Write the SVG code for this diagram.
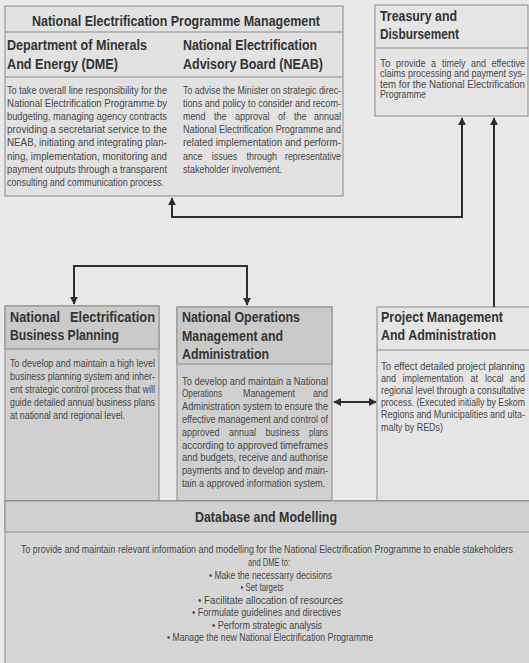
<svg xmlns="http://www.w3.org/2000/svg" width="529" height="663" viewBox="0 0 529 663">
<style>
.bg{fill:#e9e9e9}
.box{stroke:#8a8a8a;stroke-width:1}
.lt{fill:#e2e2e2}
.ltb{fill:#e5e5e5}
.dk{fill:#d0d0d0}
.dkh{fill:#cacaca}
.db{fill:#d6d6d6}
.dbh{fill:#d0d0d0}
.div{stroke:#8a8a8a;stroke-width:1;fill:none}
text{font-family:"Liberation Sans",Arial,sans-serif}
.h{font-weight:bold;font-size:15px;fill:#333}
.t{font-weight:bold;font-size:14px;fill:#333}
.b{font-size:10px;fill:#474747}
.c{stroke:#2e2e2e;stroke-width:2;fill:none}
</style>
<defs>
<marker id="ah" viewBox="0 0 10 10" refX="9" refY="5" markerWidth="4" markerHeight="4" orient="auto-start-reverse">
<path d="M0,0 L10,5 L0,10 z" fill="#2e2e2e"/>
</marker>
</defs>
<rect class="bg" x="0" y="0" width="529" height="663"/>

<g id="management">
<rect class="box lt" x="5" y="6" width="338" height="190"/>
<line class="div" x1="5" y1="32" x2="343" y2="32"/>
<line class="div" x1="5" y1="77" x2="343" y2="77"/>
<text class="t" x="176" y="26" text-anchor="middle" textLength="288" lengthAdjust="spacingAndGlyphs">National Electrification Programme Management</text>
<text class="h" x="7" y="50" textLength="140" lengthAdjust="spacingAndGlyphs">Department of Minerals</text>
<text class="h" x="7" y="69" textLength="111" lengthAdjust="spacingAndGlyphs">And Energy (DME)</text>
<text class="h" x="183" y="50" textLength="134" lengthAdjust="spacingAndGlyphs">National Electrification</text>
<text class="h" x="183" y="69" textLength="140" lengthAdjust="spacingAndGlyphs">Advisory Board (NEAB)</text>
<text class="b" x="7" y="93.5" textLength="160" lengthAdjust="spacingAndGlyphs">To take overall line responsibility for the</text>
<text class="b" x="7" y="106.7" textLength="160" lengthAdjust="spacingAndGlyphs">National Electrification Programme by</text>
<text class="b" x="7" y="119.9" textLength="160" lengthAdjust="spacingAndGlyphs">budgeting, managing agency contracts</text>
<text class="b" x="7" y="133.1" textLength="160" lengthAdjust="spacingAndGlyphs">providing a secretariat service to the</text>
<text class="b" x="7" y="146.3" textLength="160" lengthAdjust="spacingAndGlyphs">NEAB, initiating and integrating plan-</text>
<text class="b" x="7" y="159.5" textLength="160" lengthAdjust="spacingAndGlyphs">ning, implementation, monitoring and</text>
<text class="b" x="7" y="172.7" textLength="160" lengthAdjust="spacingAndGlyphs">payment outputs through a transparent</text>
<text class="b" x="7" y="185.9" textLength="157" lengthAdjust="spacingAndGlyphs">consulting and communication process.</text>
<text class="b" x="183" y="93.5" textLength="158" lengthAdjust="spacingAndGlyphs">To advise the Minister on strategic direc-</text>
<text class="b" x="183" y="106.7" textLength="158" lengthAdjust="spacingAndGlyphs">tions and policy to consider and recom-</text>
<text class="b" x="183" y="119.9" textLength="22.5" lengthAdjust="spacingAndGlyphs">mend</text>
<text class="b" x="214" y="119.9" textLength="12.5" lengthAdjust="spacingAndGlyphs">the</text>
<text class="b" x="235" y="119.9" textLength="34.5" lengthAdjust="spacingAndGlyphs">approval</text>
<text class="b" x="278" y="119.9" textLength="7.5" lengthAdjust="spacingAndGlyphs">of</text>
<text class="b" x="294" y="119.9" textLength="12.5" lengthAdjust="spacingAndGlyphs">the</text>
<text class="b" x="314" y="119.9" textLength="27" lengthAdjust="spacingAndGlyphs">annual</text>
<text class="b" x="183" y="133.1" textLength="158" lengthAdjust="spacingAndGlyphs">National Electrification Programme and</text>
<text class="b" x="183" y="146.3" textLength="158" lengthAdjust="spacingAndGlyphs">related implementation and perform-</text>
<text class="b" x="183" y="159.5" textLength="19.5" lengthAdjust="spacingAndGlyphs">ance</text>
<text class="b" x="211.7" y="159.5" textLength="25.5" lengthAdjust="spacingAndGlyphs">issues</text>
<text class="b" x="246.4" y="159.5" textLength="30.5" lengthAdjust="spacingAndGlyphs">through</text>
<text class="b" x="285" y="159.5" textLength="56" lengthAdjust="spacingAndGlyphs">representative</text>
<text class="b" x="183" y="172.7" textLength="99" lengthAdjust="spacingAndGlyphs">stakeholder involvement.</text>
</g>

<g id="treasury">
<rect class="box ltb" x="375" y="5" width="153" height="111"/>
<line class="div" x1="375" y1="48" x2="528" y2="48"/>
<text class="h" x="380" y="21" textLength="77" lengthAdjust="spacingAndGlyphs">Treasury and</text>
<text class="h" x="380" y="39" textLength="79" lengthAdjust="spacingAndGlyphs">Disbursement</text>
<text class="b" x="380" y="66.5" textLength="10.5" lengthAdjust="spacingAndGlyphs">To</text>
<text class="b" x="396" y="66.5" textLength="29.5" lengthAdjust="spacingAndGlyphs">provide</text>
<text class="b" x="431" y="66.5" textLength="5" lengthAdjust="spacingAndGlyphs">a</text>
<text class="b" x="442" y="66.5" textLength="23.5" lengthAdjust="spacingAndGlyphs">timely</text>
<text class="b" x="471" y="66.5" textLength="15" lengthAdjust="spacingAndGlyphs">and</text>
<text class="b" x="491.5" y="66.5" textLength="33.5" lengthAdjust="spacingAndGlyphs">effective</text>
<text class="b" x="380" y="77" textLength="145" lengthAdjust="spacingAndGlyphs">claims processing and payment sys-</text>
<text class="b" x="380" y="87.5" textLength="145" lengthAdjust="spacingAndGlyphs">tem for the National Electrification</text>
<text class="b" x="380" y="98" textLength="46" lengthAdjust="spacingAndGlyphs">Programme</text>
</g>

<g id="business-planning">
<rect class="box dk" x="5" y="306" width="154" height="195"/>
<rect class="box dkh" x="5" y="306" width="154" height="43"/>
<text class="h" x="10" y="322" textLength="50" lengthAdjust="spacingAndGlyphs">National</text>
<text class="h" x="70" y="322" textLength="85" lengthAdjust="spacingAndGlyphs">Electrification</text>
<text class="h" x="10" y="340" textLength="109" lengthAdjust="spacingAndGlyphs">Business Planning</text>
<text class="b" x="10" y="366.5" textLength="145" lengthAdjust="spacingAndGlyphs">To develop and maintain a high level</text>
<text class="b" x="10" y="379.5" textLength="145" lengthAdjust="spacingAndGlyphs">business planning system and inher-</text>
<text class="b" x="10" y="392.5" textLength="145" lengthAdjust="spacingAndGlyphs">ent strategic control process that will</text>
<text class="b" x="10" y="405.5" textLength="145" lengthAdjust="spacingAndGlyphs">guide detailed annual business plans</text>
<text class="b" x="10" y="418.5" textLength="115" lengthAdjust="spacingAndGlyphs">at national and regional level.</text>
</g>

<g id="operations">
<rect class="box dk" x="177" y="307" width="155" height="194"/>
<rect class="box dkh" x="177" y="307" width="155" height="57"/>
<text class="h" x="182" y="322" textLength="118" lengthAdjust="spacingAndGlyphs">National Operations</text>
<text class="h" x="182" y="341" textLength="101" lengthAdjust="spacingAndGlyphs">Management and</text>
<text class="h" x="182" y="359" textLength="87" lengthAdjust="spacingAndGlyphs">Administration</text>
<text class="b" x="182" y="384.5" textLength="146" lengthAdjust="spacingAndGlyphs">To develop and maintain a National</text>
<text class="b" x="182" y="397.3" textLength="40" lengthAdjust="spacingAndGlyphs">Operations</text>
<text class="b" x="243" y="397.3" textLength="52" lengthAdjust="spacingAndGlyphs">Management</text>
<text class="b" x="313" y="397.3" textLength="15" lengthAdjust="spacingAndGlyphs">and</text>
<text class="b" x="182" y="410.1" textLength="146" lengthAdjust="spacingAndGlyphs">Administration system to ensure the</text>
<text class="b" x="182" y="422.9" textLength="146" lengthAdjust="spacingAndGlyphs">effective management and control of</text>
<text class="b" x="182" y="435.7" textLength="37.5" lengthAdjust="spacingAndGlyphs">approved</text>
<text class="b" x="229" y="435.7" textLength="27" lengthAdjust="spacingAndGlyphs">annual</text>
<text class="b" x="265.5" y="435.7" textLength="34" lengthAdjust="spacingAndGlyphs">business</text>
<text class="b" x="309" y="435.7" textLength="19" lengthAdjust="spacingAndGlyphs">plans</text>
<text class="b" x="182" y="448.5" textLength="146" lengthAdjust="spacingAndGlyphs">according to approved timeframes</text>
<text class="b" x="182" y="461.3" textLength="146" lengthAdjust="spacingAndGlyphs">and budgets, receive and authorise</text>
<text class="b" x="182" y="474.1" textLength="146" lengthAdjust="spacingAndGlyphs">payments and to develop and main-</text>
<text class="b" x="182" y="486.9" textLength="143" lengthAdjust="spacingAndGlyphs">tain a approved information system.</text>
</g>

<g id="project-management">
<rect class="box ltb" x="377" y="307" width="153" height="194"/>
<line class="div" x1="377" y1="350" x2="529" y2="350"/>
<text class="h" x="381" y="322" textLength="122" lengthAdjust="spacingAndGlyphs">Project Management</text>
<text class="h" x="381" y="340" textLength="115" lengthAdjust="spacingAndGlyphs">And Administration</text>
<text class="b" x="381" y="369.5" textLength="144" lengthAdjust="spacingAndGlyphs">To effect detailed project planning</text>
<text class="b" x="381" y="381.7" textLength="15" lengthAdjust="spacingAndGlyphs">and</text>
<text class="b" x="402.5" y="381.7" textLength="61" lengthAdjust="spacingAndGlyphs">implementation</text>
<text class="b" x="470.5" y="381.7" textLength="7.5" lengthAdjust="spacingAndGlyphs">at</text>
<text class="b" x="485" y="381.7" textLength="18.5" lengthAdjust="spacingAndGlyphs">local</text>
<text class="b" x="510" y="381.7" textLength="15" lengthAdjust="spacingAndGlyphs">and</text>
<text class="b" x="381" y="393.9" textLength="144" lengthAdjust="spacingAndGlyphs">regional level through a consultative</text>
<text class="b" x="381" y="406.1" textLength="144" lengthAdjust="spacingAndGlyphs">process. (Executed initially by Eskom</text>
<text class="b" x="381" y="418.3" textLength="144" lengthAdjust="spacingAndGlyphs">Regions and Municipalities and ulta-</text>
<text class="b" x="381" y="430.5" textLength="62" lengthAdjust="spacingAndGlyphs">malty by REDs)</text>
</g>

<g id="database">
<rect class="box db" x="5" y="501" width="525" height="163"/>
<rect class="box dbh" x="5" y="501" width="525" height="31"/>
<text class="t" x="266" y="522" text-anchor="middle" textLength="142" lengthAdjust="spacingAndGlyphs">Database and Modelling</text>
<text class="b" x="267" y="553" text-anchor="middle" textLength="492" lengthAdjust="spacingAndGlyphs">To provide and maintain relevant information and modelling for the National Electrification Programme to enable stakeholders</text>
<text class="b" x="269" y="566" text-anchor="middle" textLength="42" lengthAdjust="spacingAndGlyphs">and DME to:</text>
<text class="b" x="270.5" y="578.5" text-anchor="middle" textLength="123" lengthAdjust="spacingAndGlyphs">• Make the necessarry decisions</text>
<text class="b" x="262" y="591" text-anchor="middle" textLength="43" lengthAdjust="spacingAndGlyphs">• Set targets</text>
<text class="b" x="270.5" y="603.5" text-anchor="middle" textLength="145" lengthAdjust="spacingAndGlyphs">• Facilitate allocation of resources</text>
<text class="b" x="266.5" y="616" text-anchor="middle" textLength="149" lengthAdjust="spacingAndGlyphs">• Formulate guidelines and directives</text>
<text class="b" x="267" y="628.5" text-anchor="middle" textLength="110" lengthAdjust="spacingAndGlyphs">• Perform strategic analysis</text>
<text class="b" x="270" y="641" text-anchor="middle" textLength="206" lengthAdjust="spacingAndGlyphs">• Manage the new National Electrification Programme</text>
</g>

<g id="connectors">
<path class="c" d="M172,198 V217 H462 V118" marker-start="url(#ah)" marker-end="url(#ah)"/>
<path class="c" d="M494,307 V118" marker-end="url(#ah)"/>
<path class="c" d="M74,304 V266 H247 V305" marker-start="url(#ah)" marker-end="url(#ah)"/>
<path class="c" d="M334,402 H376" marker-start="url(#ah)" marker-end="url(#ah)"/>
</g>
</svg>
